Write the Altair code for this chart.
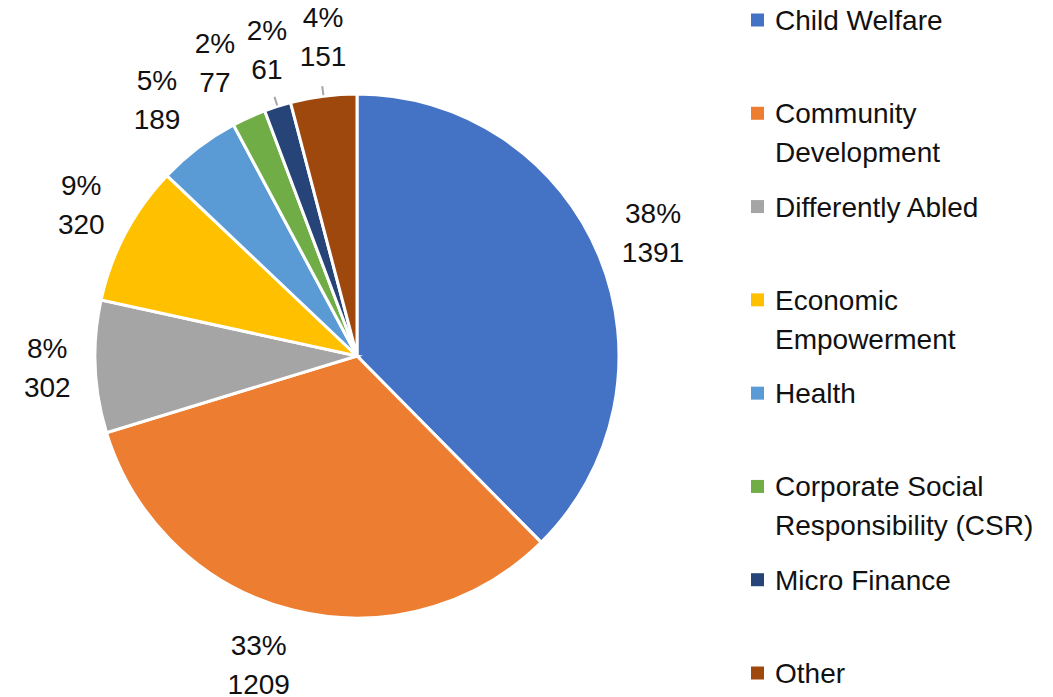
import altair as alt
import pandas as pd

categories = ["Child Welfare", "Community Development", "Differently Abled",
              "Economic Empowerment", "Health", "Corporate Social Responsibility (CSR)",
              "Micro Finance", "Other"]
values = [1391, 1209, 302, 320, 189, 77, 61, 151]
legend_lines = ["Child Welfare", "Community\nDevelopment", "Differently Abled",
                "Economic\nEmpowerment", "Health", "Corporate Social\nResponsibility (CSR)",
                "Micro Finance", "Other"]
colors = ["#4472C4", "#ED7D31", "#A5A5A5", "#FFC000", "#5B9BD5", "#70AD47", "#264478", "#9E480E"]
has_leader = [False, False, False, False, False, False, True, True]

# horizontal nudges of individual data labels (style only)
label_dx = [0, -20, 10, 7, -6, -10, 7, 7]

FONT = "Liberation Sans"
FS = 28
LH = 39

total = sum(values)
df = pd.DataFrame({
    "cat": categories,
    "value": values,
    "idx": list(range(len(values))),
    "legend": legend_lines,
    "ldx": label_dx,
})
df["pct"] = (df["value"] / total * 100).round().astype(int)
df["label"] = df["pct"].astype(str) + "%\n" + df["value"].astype(str)
df["cum"] = df["value"].cumsum()
df["mid"] = df["cum"] - df["value"] / 2
half = 2.2
lead = df[has_leader].copy()
lead["lstart"] = lead["mid"] - half
lead["lend"] = lead["mid"] + half

CX, CY, R = 357, 356, 262

color = alt.Color("cat:N", scale=alt.Scale(domain=categories, range=colors), legend=None)

base = alt.Chart(df)

pie = base.mark_arc(radius=R, stroke="white", strokeWidth=3).encode(
    theta=alt.Theta("value:Q", stack=True),
    order=alt.Order("idx:Q"),
    color=color,
    x=alt.value(CX), y=alt.value(CY),
)

label_layers = []
for d in sorted(set(label_dx)):
    label_layers.append(
        base.mark_text(radius=320, fontSize=FS, font=FONT, lineBreak="\n",
                       lineHeight=LH, align="center", baseline="middle",
                       dy=-LH / 2, dx=d, color="#111111").encode(
            theta=alt.Theta("value:Q", stack=True),
            order=alt.Order("idx:Q"),
            text=alt.condition(f"datum.ldx == {d}", "label:N", alt.value("")),
            x=alt.value(CX), y=alt.value(CY),
        )
    )

leaders = alt.Chart(lead).mark_arc(radius=272, radius2=263, color="#A6A6A6").encode(
    theta=alt.Theta("lstart:Q", scale=alt.Scale(domain=[0, total])),
    theta2="lend:Q",
    x=alt.value(CX), y=alt.value(CY),
)

ly = alt.Y("idx:Q", scale=alt.Scale(domain=[0, 7], range=[20, 673]), axis=None)

leg_sq = base.mark_square(size=169, opacity=1).encode(
    x=alt.value(757.5), y=ly, color=color,
)
leg_tx = base.mark_text(align="left", baseline="alphabetic", dy=10, fontSize=FS,
                        font=FONT, lineBreak="\n", lineHeight=LH,
                        color="#111111").encode(
    x=alt.value(775), y=ly, text="legend:N",
)

chart = alt.layer(pie, *label_layers, leaders, leg_sq, leg_tx).resolve_scale(
    theta="independent"
).properties(
    width=1053, height=697, autosize=alt.AutoSizeParams(type="none"), padding=0,
    background="white"
).configure_view(stroke=None)

chart.save("out.html", embed_options={"renderer": "svg", "actions": False})
